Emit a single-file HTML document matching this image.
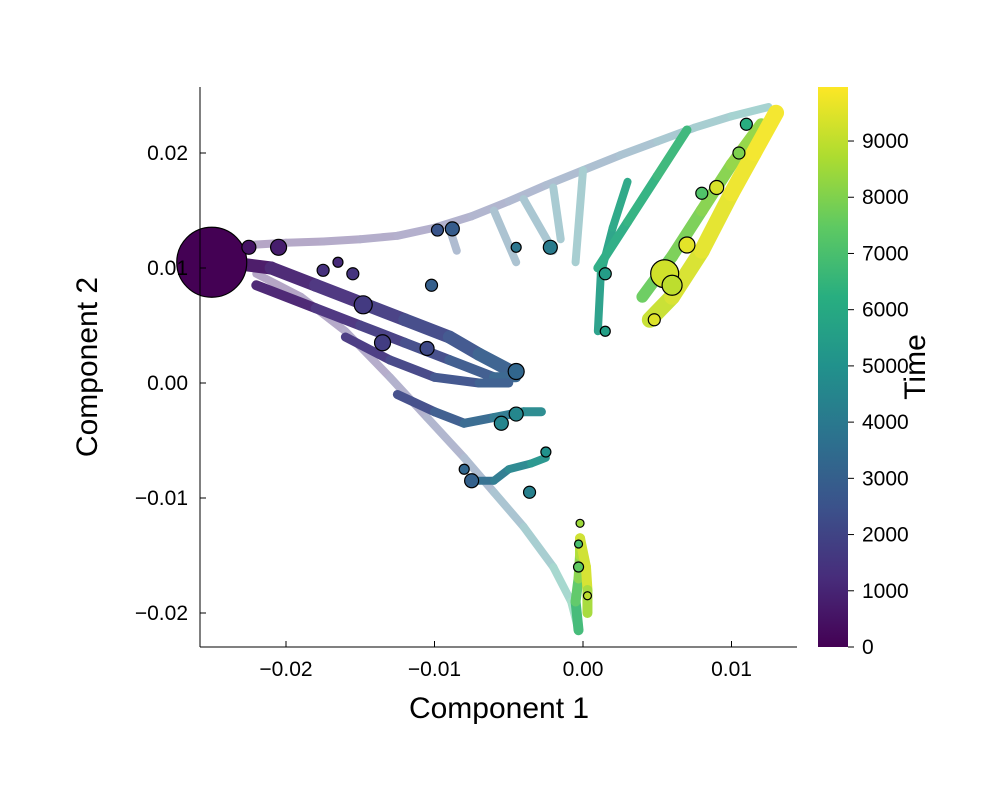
<!DOCTYPE html>
<html><head><meta charset="utf-8"><style>
body{margin:0;background:#fff}
svg{display:block}
text{font-family:"Liberation Sans",sans-serif;fill:#000}
</style></head><body>
<svg id="chart" width="1000" height="800" viewBox="0 0 1000 800" xmlns="http://www.w3.org/2000/svg">
<g id="marks"></g>
<g id="axes"></g>
<defs><linearGradient id="cbg" x1="0" y1="1" x2="0" y2="0">
<stop offset="0" stop-color="#440154"/><stop offset="0.125" stop-color="#472d7b"/><stop offset="0.25" stop-color="#3b528b"/><stop offset="0.375" stop-color="#2c728e"/><stop offset="0.5" stop-color="#21918c"/><stop offset="0.625" stop-color="#28ae80"/><stop offset="0.75" stop-color="#5ec962"/><stop offset="0.875" stop-color="#addc30"/><stop offset="1" stop-color="#fde725"/></linearGradient></defs>
<rect x="818" y="87" width="30" height="560" fill="url(#cbg)"/>
<text x="499" y="718" font-size="30" text-anchor="middle">Component 1</text>
<text transform="translate(97,367) rotate(-90)" font-size="30" text-anchor="middle">Component 2</text>
<text transform="translate(925,367) rotate(-90)" font-size="30" text-anchor="middle">Time</text>
</svg>
<script>
const xTicks=[-0.02,-0.01,0.00,0.01];
const xTickLabels=["\u22120.02","\u22120.01","0.00","0.01"];
const yTicks=[0.02,0.01,0.00,-0.01,-0.02];
const yTickLabels=["0.02","0.01","0.00","\u22120.01","\u22120.02"];
const cbTicks=[0,1000,2000,3000,4000,5000,6000,7000,8000,9000];
const arcUpperX=[-0.0225,-0.020,-0.0175,-0.015,-0.0125,-0.010,-0.0075,-0.005,-0.0025,0,0.0025,0.005,0.0075,0.010,0.0125];
const arcUpperY=[0.0120,0.0122,0.0123,0.0125,0.0128,0.0135,0.0145,0.0158,0.0172,0.0185,0.0198,0.0210,0.0222,0.0232,0.0240];
const arcUpperT=[800,1000,1200,1400,1600,1800,2000,2300,2700,3000,3300,3700,4200,4700,5200];
const arcLowerX=[-0.022,-0.019,-0.016,-0.013,-0.0105,-0.008,-0.006,-0.004,-0.002,-0.0008,-0.0003];
const arcLowerY=[0.0095,0.0075,0.0045,0.0005,-0.003,-0.0065,-0.0095,-0.0125,-0.016,-0.019,-0.0215];
const arcLowerT=[800,1000,1300,1600,2000,2500,3200,4000,5000,6000,6500];
const bandAX=[-0.024,-0.021,-0.018,-0.015,-0.012,-0.009,-0.007,-0.0045];
const bandAY=[0.0105,0.0100,0.0085,0.0070,0.0055,0.0040,0.0025,0.0008];
const bandAT=[300,700,1100,1500,1900,2300,2700,3200];
const bandBX=[-0.022,-0.018,-0.015,-0.012,-0.009,-0.006,-0.0045];
const bandBY=[0.0085,0.0065,0.0050,0.0035,0.0020,0.0005,0.0005];
const bandBT=[600,1100,1500,1900,2400,3000,3300];
const bandCX=[-0.016,-0.013,-0.010,-0.007,-0.005];
const bandCY=[0.004,0.002,0.0005,0.0000,0.0000];
const bandCT=[1300,1700,2200,2700,3000];
const midX=[-0.0125,-0.010,-0.008,-0.006,-0.004,-0.0028];
const midY=[-0.001,-0.0025,-0.0035,-0.0030,-0.0025,-0.0025];
const midT=[1900,2500,3000,3600,4300,5000];
const lowX=[-0.0075,-0.006,-0.005,-0.0035,-0.0025];
const lowY=[-0.0085,-0.0085,-0.0075,-0.007,-0.0065];
const lowT=[3200,3800,4200,4800,5400];
const bottomX=[-0.0003,-0.0005,-0.0003,-0.0002,-0.0002,0.0002,0.0003,0.0003];
const bottomY=[-0.0215,-0.019,-0.017,-0.015,-0.0135,-0.016,-0.018,-0.020];
const bottomT=[6500,7000,7800,8500,9000,9500,9200,8000];
const yellowX=[0.0045,0.006,0.008,0.010,0.0115,0.013];
const yellowY=[0.0055,0.0075,0.0115,0.0165,0.020,0.0235];
const yellowT=[9000,9300,9500,9700,9800,9900];
const greenX=[0.004,0.006,0.008,0.010,0.012];
const greenY=[0.0075,0.011,0.015,0.019,0.0225];
const greenT=[7500,7800,8000,8200,8400];
const tealAX=[0.001,0.003,0.005,0.007];
const tealAY=[0.010,0.014,0.018,0.022];
const tealAT=[6000,6200,6500,6700];
const tealBX=[0.0010,0.0012,0.002,0.003];
const tealBY=[0.0045,0.0095,0.0135,0.0175];
const tealBT=[5500,5600,5800,6000];
const spur1X=[-0.009,-0.0085], spur1Y=[0.0135,0.0115], spur1T=[2600,2900];
const spur2X=[-0.006,-0.0045], spur2Y=[0.015,0.0105], spur2T=[3200,3600];
const spur3X=[-0.004,-0.002], spur3Y=[0.016,0.0115], spur3T=[3600,4000];
const spur4X=[-0.002,-0.0015], spur4Y=[0.017,0.0125], spur4T=[4000,4300];
const spur5X=[0,-0.0005], spur5Y=[0.0185,0.0105], spur5T=[4300,4700];
const markX=[-0.025,-0.0205,-0.0165,-0.0155,-0.0148,-0.0135,-0.0105,-0.0098,-0.0088,-0.0102,-0.0045,-0.0055,-0.0075,-0.008,-0.0036,-0.0025,-0.0022,-0.0045,0.0015,0.0055,0.006,0.008,0.011,-0.0002,-0.0003,0.0048,0.0015,-0.0225,-0.0175,-0.0045,0.0070,0.0090,0.0105,0.0003,-0.0003];
const markY=[0.0105,0.0118,0.0105,0.0095,0.0068,0.0035,0.0030,0.0133,0.0134,0.0085,0.0010,-0.0035,-0.0085,-0.0075,-0.0095,-0.006,0.0118,0.0118,0.0045,0.0095,0.0085,0.0165,0.0225,-0.0122,-0.016,0.0055,0.0095,0.0118,0.0098,-0.0027,0.0120,0.0170,0.0200,-0.0185,-0.0140];
const markT=[0,800,1200,1500,1700,1800,2200,2600,2900,3000,3300,4500,3100,3300,4300,5000,4100,3900,5600,9300,9000,7200,6200,8500,7500,9500,5500,500,1400,4600,9600,9400,8000,9000,7000];
const markS=[35,8,5,6,9,8,7,6,7,6,8,7,7,5,6,5,7,5,5,14,10,6,6,4,5,6,6,7,6,7,8,7,6,4,4];
const faintTracks=[[arcUpperX,arcUpperY,arcUpperT],[arcLowerX,arcLowerY,arcLowerT],[spur1X,spur1Y,spur1T],[spur2X,spur2Y,spur2T],[spur3X,spur3Y,spur3T],[spur4X,spur4Y,spur4T],[spur5X,spur5Y,spur5T]];
const solidTracks=[[bandAX,bandAY,bandAT,13],[bandBX,bandBY,bandBT,10],[bandCX,bandCY,bandCT,9],[midX,midY,midT,9],[lowX,lowY,lowT,8],[tealBX,tealBY,tealBT,8],[tealAX,tealAY,tealAT,9],[greenX,greenY,greenT,12],[yellowX,yellowY,yellowT,16],[bottomX,bottomY,bottomT,10]];

const X=v=>583+v*14850, Y=v=>383-v*11500, CB=t=>647-t*0.05622;
const vir=["#440154","#472d7b","#3b528b","#2c728e","#21918c","#28ae80","#5ec962","#addc30","#fde725"];
function hx(c){return [1,3,5].map(i=>parseInt(c.substr(i,2),16));}
function color(t,w){w=w||0;let f=Math.max(0,Math.min(1,t/10000))*8,i=Math.min(7,Math.floor(f)),r=f-i,a=hx(vir[i]),b=hx(vir[i+1]);
return "rgb("+a.map((v,k)=>{const c=v+(b[k]-v)*r;return Math.round(c+(255-c)*w);}).join(",")+")";}
const NS="http://www.w3.org/2000/svg";
function mk(tag,attrs,parent){const e=document.createElementNS(NS,tag);for(const k in attrs)e.setAttribute(k,attrs[k]);parent.appendChild(e);return e;}
const g=document.getElementById('marks'), ax=document.getElementById('axes');
function drawTrack(xs,ys,ts,w,wh,name){
  for(let i=0;i<xs.length-1;i++){
    const l=mk('line',{x1:X(xs[i]),y1:Y(ys[i]),x2:X(xs[i+1]),y2:Y(ys[i+1]),stroke:color((ts[i]+ts[i+1])/2,wh),'stroke-width':w,'stroke-linecap':'round'},g);
    
    
  }
}
faintTracks.forEach(tr=>drawTrack(tr[0],tr[1],tr[2],8,0.6,'faint-track'));
solidTracks.forEach(tr=>drawTrack(tr[0],tr[1],tr[2],tr[3],0.05,'dense-track'));
for(let i=0;i<markX.length;i++){
  const c=mk('circle',{cx:X(markX[i]),cy:Y(markY[i]),r:markS[i],fill:color(markT[i]),stroke:'#000','stroke-width':1.2},g);
  
  
}
mk('line',{x1:200,y1:87,x2:200,y2:647,stroke:'#000','stroke-width':1},ax);
mk('line',{x1:200,y1:647,x2:797,y2:647,stroke:'#000','stroke-width':1},ax);
xTicks.forEach((v,i)=>{mk('line',{x1:X(v),y1:647,x2:X(v),y2:641,stroke:'#000'},ax);
  const t=mk('text',{x:X(v),y:676,'font-size':21,'text-anchor':'middle'},ax);t.textContent=xTickLabels[i];
  
  });
yTicks.forEach((v,i)=>{mk('line',{x1:200,y1:Y(v),x2:206,y2:Y(v),stroke:'#000'},ax);
  const t=mk('text',{x:188,y:Y(v)+7,'font-size':21,'text-anchor':'end'},ax);t.textContent=yTickLabels[i];
  
  });
cbTicks.forEach(v=>{mk('line',{x1:848,y1:CB(v),x2:854,y2:CB(v),stroke:'#000'},ax);
  const t=mk('text',{x:862,y:CB(v)+7,'font-size':21},ax);t.textContent=String(v);
  
  });
</script>
</body></html>
